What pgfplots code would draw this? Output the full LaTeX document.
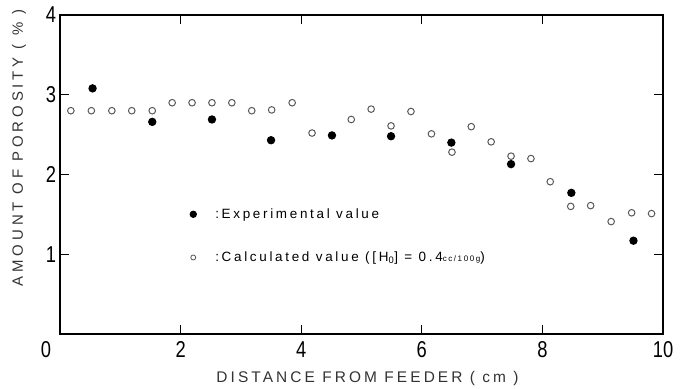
\documentclass[border=0pt]{standalone}
\usepackage{pgfplots}
\pgfplotsset{compat=1.18}
\usepackage{fontspec}
\setmainfont{Liberation Sans}
\newfontfamily\lblfont{Liberation Sans}[LetterSpace=20]
\newfontfamily\ylblfont{Liberation Sans}[LetterSpace=26]
\newfontfamily\tickfont{Liberation Sans}[FakeStretch=0.8]

\pgfplotstableread{
x y
0.18 2.80
0.52 2.80
0.86 2.80
1.19 2.80
1.53 2.80
1.86 2.90
2.19 2.90
2.52 2.90
2.85 2.90
3.18 2.80
3.51 2.81
3.85 2.90
4.18 2.52
4.83 2.69
5.16 2.82
5.49 2.61
5.82 2.79
6.16 2.51
6.50 2.28
6.82 2.60
7.15 2.41
7.48 2.23
7.81 2.20
8.13 1.91
8.47 1.60
8.80 1.61
9.14 1.41
9.48 1.52
9.81 1.51
}\calc

\pgfplotstableread{
x y
0.54 3.08
1.53 2.66
2.52 2.69
3.50 2.43
4.51 2.49
5.49 2.48
6.49 2.40
7.48 2.13
8.48 1.77
9.51 1.17
}\expt

\begin{document}
\begin{tikzpicture}
\begin{axis}[
  scale only axis, width=603bp, height=319bp,
  xmin=0, xmax=10, ymin=0, ymax=4,
  xtick={2,4,6,8,10}, ytick={1,2,3,4},
  extra x ticks={0},
  extra x tick style={xticklabel style={xshift=-14bp}, major tick length=0pt},
  tick align=inside, major tick length=9bp,
  axis line style={line width=1.3bp},
  tick style={line width=1bp, black},
  every axis/.append style={line width=1.3bp},
  ticklabel style={font=\tickfont\fontsize{23}{23}\selectfont},
  xticklabel style={yshift=-4bp},
  /pgf/number format/assume math mode=true,
  xlabel={DISTANCE FROM FEEDER ( cm )},
  ylabel={AMOUNT OF POROSITY ( \% )},
  xlabel style={font=\lblfont\fontsize{15.5}{15.5}\selectfont, color=black!80,
    at={(axis description cs:0.51,0)}, anchor=north, yshift=-33bp},
  ylabel style={font=\ylblfont\fontsize{15}{15}\selectfont, color=black!80,
    at={(axis description cs:0,0.583)}, anchor=south, yshift=30bp},
  legend style={at={(axis cs:2.1,1.63)}, anchor=north west, draw=none, fill=none,
    font=\lblfont\fontsize{13.5}{13.5}\selectfont, row sep=28bp,
    /tikz/every even column/.append style={column sep=2bp},
    /tikz/every odd column/.append style={column sep=17bp}},
  legend cell align=left,
]
\coordinate (sw) at (rel axis cs:0,0);
\addlegendimage{only marks, mark=*, mark size=3bp, black}
\addlegendentry{:Experimental value}
\addlegendimage{only marks, mark=o, mark size=2.5bp, black!65, mark options={line width=0.8bp}}
\addlegendentry{:Calculated value ([H\textsubscript{0}] = 0.4{\fontsize{8}{8}\selectfont cc/100g})}
\addplot[forget plot, only marks, mark=o, mark size=3.3bp, black!65, mark options={line width=1bp}] table {\calc};
\addplot[forget plot, only marks, mark=*, mark size=3.5bp, black] table {\expt};
\end{axis}
\path (sw) ++(-60bp,-52bp) rectangle ++(682bp,386bp);
\end{tikzpicture}
\end{document}
